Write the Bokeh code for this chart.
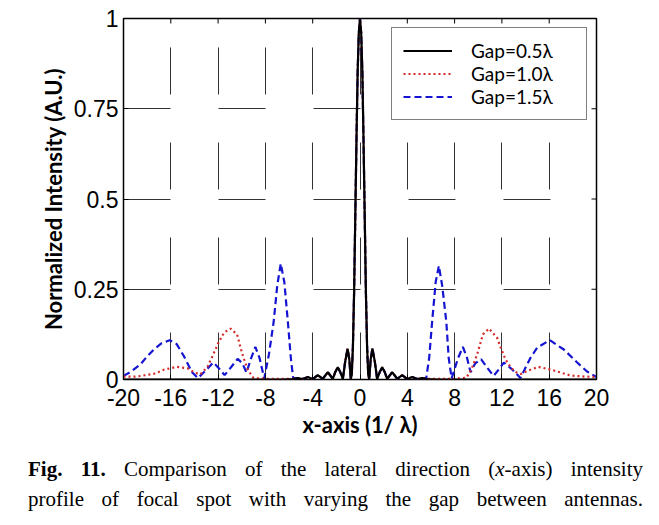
import math
from bokeh.plotting import figure
from bokeh.models import Range1d, FixedTicker, Legend, LegendItem, Div
from bokeh.layouts import column
from bokeh.embed import file_html
from bokeh.resources import INLINE

# ---------------- data ----------------
x_ticks = [-20, -16, -12, -8, -4, 0, 4, 8, 12, 16, 20]
x_tick_labels = ["-20", "-16", "-12", "-8", "-4", "0", "4", "8", "12", "16", "20"]
y_ticks = [0, 0.25, 0.5, 0.75, 1]
y_tick_labels = ["0", "0.25", "0.5", "0.75", "1"]
series_labels = ["Gap=0.5\u03bb", "Gap=1.0\u03bb", "Gap=1.5\u03bb"]

# central lobe + side lobes, shared by all three curves
core_x = [-5.25, -4.85, -4.4, -4.0, -3.57, -3.15, -2.72, -2.3, -2.1, -1.88, -1.66, -1.45,
          -1.25, -1.05, -0.9, -0.78, -0.7, -0.6, -0.5, -0.4, -0.3, -0.2, -0.1, 0.0,
          0.1, 0.2, 0.3, 0.4, 0.5, 0.6, 0.7, 0.78, 0.9, 1.05, 1.25, 1.45, 1.66, 1.88,
          2.1, 2.3, 2.72, 3.15, 3.57, 4.0, 4.4, 4.85, 5.25]
core_y = [0.004, 0.001, 0.007, 0.001, 0.012, 0.002, 0.02, 0.002, 0.02, 0.034, 0.02, 0.002,
          0.05, 0.085, 0.055, 0.002, 0.012, 0.09, 0.24, 0.45, 0.66, 0.85, 0.96, 1.0,
          0.96, 0.85, 0.66, 0.45, 0.24, 0.09, 0.012, 0.002, 0.055, 0.086, 0.05, 0.002, 0.02, 0.034,
          0.02, 0.002, 0.02, 0.002, 0.012, 0.001, 0.007, 0.001, 0.004]

# Gap = 0.5 lambda (outer parts)
black_left_x = [-20.0, -6.5, -5.7]
black_left_y = [0.0, 0.0, 0.001]
black_right_x = [5.7, 6.5, 20.0]
black_right_y = [0.001, 0.0, 0.0]

# Gap = 1.0 lambda (outer parts)
red_left_x = [-20.0, -19.0, -18.5, -17.4, -16.6, -15.5, -14.6, -13.9, -13.5, -12.9, -12.4,
              -12.0, -11.5, -10.95, -10.4, -9.95, -9.5, -9.0, -8.0, -6.5, -5.7]
red_left_y = [0.008, 0.008, 0.01, 0.016, 0.027, 0.035, 0.031, 0.018, 0.014, 0.035, 0.07,
              0.1, 0.13, 0.141, 0.125, 0.07, 0.027, 0.004, 0.002, 0.002, 0.002]
red_right_x = [5.7, 6.5, 8.0, 9.0, 9.45, 9.9, 10.4, 10.9, 11.6, 11.9, 12.3, 12.75, 13.15,
               13.6, 14.15, 15.1, 16.4, 17.8, 19.0, 20.0]
red_right_y = [0.002, 0.002, 0.002, 0.005, 0.03, 0.069, 0.125, 0.141, 0.115, 0.088, 0.056,
               0.033, 0.021, 0.015, 0.024, 0.035, 0.025, 0.011, 0.008, 0.007]

# Gap = 1.5 lambda (outer parts)
blue_left_x = [-20.0, -19.4, -18.56, -18.0, -17.44, -16.8, -16.1, -15.5, -14.9, -14.2, -13.7,
               -13.2, -12.4, -11.9, -11.45, -11.0, -10.35, -9.95, -9.6, -9.25, -8.85, -8.5,
               -8.1, -7.7, -7.3, -7.0, -6.7, -6.4, -6.1, -5.85, -5.65]
blue_left_y = [0.01, 0.021, 0.042, 0.064, 0.083, 0.1, 0.109, 0.098, 0.065, 0.02, 0.004,
               0.02, 0.047, 0.03, 0.012, 0.03, 0.057, 0.045, 0.019, 0.055, 0.09, 0.06,
               0.003, 0.07, 0.16, 0.26, 0.321, 0.27, 0.16, 0.06, 0.003]
blue_right_x = [5.6, 5.85, 6.1, 6.4, 6.67, 6.95, 7.3, 7.5, 7.75, 8.3, 8.7, 9.05, 9.35, 9.75,
                10.25, 10.75, 11.3, 11.74, 12.16, 12.87, 13.57, 14.0, 14.42, 14.98, 16.05,
                17.24, 18.37, 19.2, 20.0]
blue_right_y = [0.003, 0.06, 0.16, 0.27, 0.315, 0.26, 0.16, 0.06, 0.003, 0.06, 0.09, 0.06,
                0.02, 0.045, 0.056, 0.033, 0.01, 0.028, 0.047, 0.028, 0.004, 0.033, 0.06,
                0.088, 0.109, 0.083, 0.047, 0.022, 0.007]

black_x = black_left_x + core_x + black_right_x
black_y = black_left_y + core_y + black_right_y
red_x = red_left_x + core_x + red_right_x
red_y = red_left_y + core_y + red_right_y
blue_x = blue_left_x + core_x + blue_right_x
blue_y = blue_left_y + core_y + blue_right_y

# ---------------- figure ----------------
TICK_FONT = "Liberation Sans"
LABEL_FONT = "Lato"

p = figure(width=651, height=440, x_range=Range1d(-20, 20), y_range=Range1d(0, 1),
           output_backend="svg", toolbar_location=None,
           min_border_left=123, min_border_right=55, min_border_top=18, min_border_bottom=58)
p.background_fill_color = "white"
p.border_fill_color = "white"
p.outline_line_color = "black"
p.outline_line_width = 1.5

# grids: long sparse dashes
for g in (p.xgrid, p.ygrid):
    g.grid_line_color = "#333333"
    g.grid_line_width = 1
    g.grid_line_dash = "47 48"
p.xgrid.ticker = FixedTicker(ticks=x_ticks)
p.ygrid.ticker = FixedTicker(ticks=y_ticks)

xa = p.xaxis[0]
xa.ticker = FixedTicker(ticks=x_ticks)
xa.major_label_overrides = {t: s for t, s in zip(x_ticks, x_tick_labels)}
xa.axis_label = "x-axis (1/ \u03bb)"
ya = p.yaxis[0]
ya.ticker = FixedTicker(ticks=y_ticks)
ya.major_label_overrides = {t: s for t, s in zip(y_ticks, y_tick_labels)}
ya.axis_label = "Normalized Intensity (A.U.)"

for ax in (xa, ya):
    ax.axis_line_color = None
    ax.major_tick_in = 5
    ax.major_tick_out = 0
    ax.minor_tick_in = 0
    ax.minor_tick_out = 0
    ax.major_tick_line_color = "black"
    ax.major_label_text_font = TICK_FONT
    ax.major_label_text_font_size = "23px"
    ax.major_label_text_color = "black"
    ax.axis_label_text_font = LABEL_FONT
    ax.axis_label_text_font_style = "bold"
    ax.axis_label_text_font_size = "22px"
    ax.axis_label_text_color = "black"
xa.major_label_standoff = 9
xa.axis_label_standoff = 2
ya.major_label_standoff = 5
ya.axis_label_standoff = 4

# mirrored inward ticks on top and right edges of the box
p.ray(x=x_ticks, y=[y_ticks[-1]] * len(x_ticks), length=5, length_units="screen",
      angle=-math.pi / 2, line_color="black", line_width=1)
p.ray(x=[x_ticks[-1]] * len(y_ticks), y=y_ticks, length=5, length_units="screen",
      angle=math.pi, line_color="black", line_width=1)

r_blue = p.line(blue_x, blue_y, line_color="#1414d2", line_width=2.2, line_dash="7 4")
r_red = p.line(red_x, red_y, line_color="#d42a2a", line_width=2.2, line_dash="2 3")
r_black = p.line(black_x, black_y, line_color="black", line_width=2.2)

legend = Legend(items=[LegendItem(label=series_labels[0], renderers=[r_black]),
                       LegendItem(label=series_labels[1], renderers=[r_red]),
                       LegendItem(label=series_labels[2], renderers=[r_blue])],
                location=(268, 259), margin=0, padding=11, spacing=0,
                glyph_width=49, glyph_height=21, label_height=21, label_width=104,
                label_standoff=19, label_text_font=LABEL_FONT, label_text_font_size="19px",
                label_text_line_height=1.0,
                label_text_color="black", border_line_color="black", border_line_width=1,
                background_fill_color="white", background_fill_alpha=1)
p.add_layout(legend)

caption = Div(
    text=('<div style="width:615px; margin-left:23px; margin-top:9px; '
          'font-family:\'Liberation Serif\', \'Times New Roman\', serif; font-size:21px; '
          'line-height:30px; color:black; text-align:justify; text-align-last:justify;">'
          '<b>Fig. 11.</b> Comparison of the lateral direction (<i>x</i>-axis) intensity<br>'
          'profile of focal spot with varying the gap between antennas.</div>'),
    width=651, height=70)

layout = column(p, caption)
open("out.html", "w").write(file_html(layout, INLINE))
